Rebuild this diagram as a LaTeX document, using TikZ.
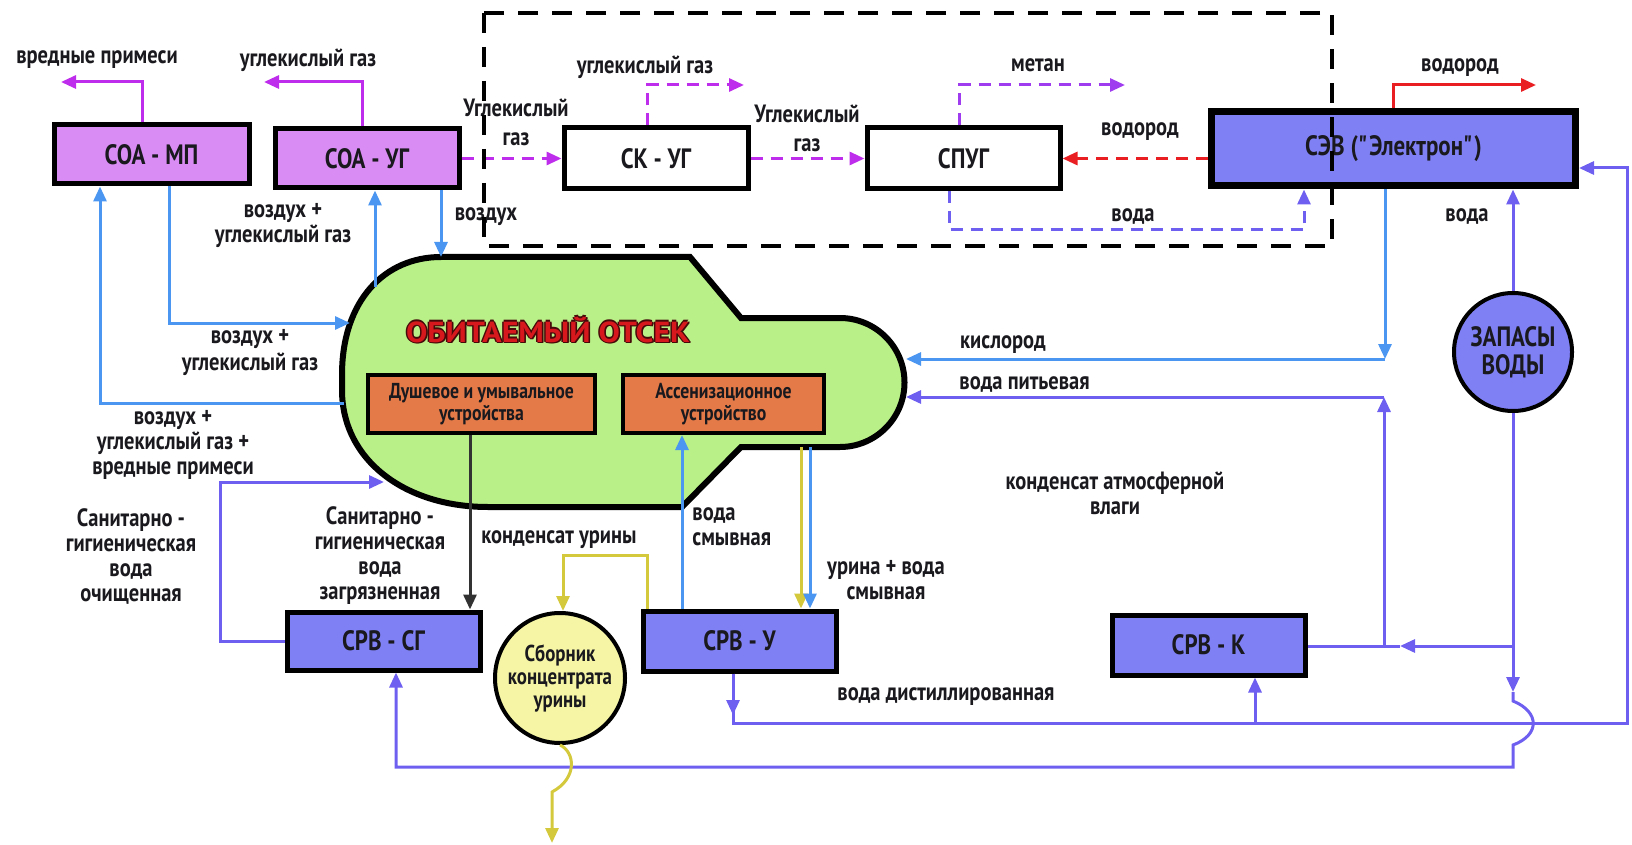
\documentclass[tikz,border=0pt]{standalone}
\usepackage{fontspec}
\setmainfont{PT Sans}[FakeStretch=0.82]
\newfontfamily\titlefont{PT Sans}[FakeStretch=1.1]
\usepackage{xcolor}
\usepackage{tikz}
\usetikzlibrary{arrows.meta, positioning, shapes.geometric}
\definecolor{SOAFill}{RGB}{218,140,245}
\definecolor{SRVFill}{RGB}{128,128,245}
\definecolor{HabFill}{RGB}{185,240,135}
\definecolor{DevFill}{RGB}{228,122,72}
\definecolor{SbFill}{RGB}{245,245,165}
\definecolor{MagLine}{RGB}{190,45,235}
\definecolor{MetLine}{RGB}{160,60,240}
\definecolor{VioLine}{RGB}{110,95,240}
\definecolor{BlueLine}{RGB}{75,150,240}
\definecolor{RedLine}{RGB}{232,30,35}
\definecolor{YelLine}{RGB}{212,200,60}
\definecolor{DarkLine}{RGB}{50,50,50}
\definecolor{TextDark}{RGB}{25,25,30}
\definecolor{TitleRed}{RGB}{215,25,30}
\definecolor{TitleEdge}{RGB}{70,10,10}

\newcommand\lblfont{\bfseries\fontsize{12.5}{12.5}\selectfont}
\newcommand\boxfont{\bfseries\fontsize{14}{15}\selectfont}
\newcommand\devfont{\bfseries\fontsize{10.8}{11}\selectfont}

\tikzset{
  box/.style={draw=black, line width=2.5pt, inner sep=0pt, font=\boxfont, text=TextDark},
  soabox/.style={box, fill=SOAFill},
  srvbox/.style={box, fill=SRVFill},
  plainbox/.style={box, fill=white},
  devbox/.style={draw=black, line width=2pt, fill=DevFill, align=center,
    font=\devfont, text=TextDark, inner sep=0pt},
  tank/.style={circle, draw=black, line width=2pt, align=center,
    text=TextDark, inner sep=0pt},
  lbl/.style={font=\lblfont, text=TextDark, align=center, inner sep=0pt},
  bare/.style={line width=1.5pt},
  flow/.style={bare, -{Triangle[length=7.5pt,width=6.5pt]}},
  dflow/.style={flow, dash pattern=on 6pt off 4pt},
  frame/.style={line width=1.6pt, dash pattern=on 10pt off 7pt},
  hablbl/.style={font=\titlefont\bfseries\fontsize{14.5}{15}\selectfont, inner sep=0pt}
}

\begin{document}
\begin{tikzpicture}[x=0.5pt,y=-0.5pt]
  \useasboundingbox (0,0) rectangle (1632,845);

  % habitable compartment
  \draw[line width=3pt, fill=HabFill] (441,257) -- (690,257) -- (741,318) -- (840,318)
    arc[start angle=-90, end angle=90, radius=64.5] -- (741,447) -- (682,507) -- (488,507)
    .. controls (405,507) and (342,460) .. (342,390) -- (342,375)
    .. controls (342,300) and (385,257) .. (441,257) -- cycle;
  \foreach \dx/\dy [count=\i] in {-1.5/0, 1.5/0, 0/-1.5, 0/1.5, 1.5/1.5}
    \node[hablbl, text=TitleEdge] (tshade\i) at (548+\dx,330+\dy) {ОБИТАЕМЫЙ ОТСЕК};
  \node[hablbl, text=TitleRed] (habtitle) at (548,330) {ОБИТАЕМЫЙ ОТСЕК};
  \node[devbox, minimum width=113.5pt, minimum height=29pt] (dush) at (481.5,404) {Душевое и умывальное\\устройства};
  \node[devbox, minimum width=100.5pt, minimum height=29pt] (assen) at (723.5,404) {Ассенизационное\\устройство};

  % units
  \node[soabox, minimum width=97.5pt, minimum height=29.5pt] (soamp) at (151.5,154.5) {СОА - МП};
  \node[soabox, minimum width=92pt, minimum height=29.5pt] (soaug) at (367,158.5) {СОА - УГ};
  \node[plainbox, minimum width=92pt, minimum height=30.5pt] (skug) at (656,158.5) {СК - УГ};
  \node[plainbox, minimum width=96.5pt, minimum height=30.5pt] (spug) at (963.5,158.5) {СПУГ};
  \node[srvbox, line width=3.5pt, minimum width=182pt, minimum height=37pt] (sev) at (1393.5,149) {СЭВ (\textquotedbl Электрон\textquotedbl)};
  \node[srvbox, minimum width=96.5pt, minimum height=29pt] (srvsg) at (383.5,641) {СРВ - СГ};
  \node[srvbox, minimum width=96.5pt, minimum height=30pt] (srvu) at (739.5,641) {СРВ - У};
  \node[srvbox, minimum width=96.5pt, minimum height=30pt] (srvk) at (1208.5,645) {СРВ - К};
  \node[tank, fill=SbFill, minimum size=65pt, font=\bfseries\fontsize{11.5}{11.5}\selectfont] (sbornik) at (560,678) {Сборник\\концентрата\\урины};
  \node[tank, fill=SRVFill, minimum size=59pt, font=\bfseries\fontsize{14}{14}\selectfont] (zapasy) at (1513,352) {ЗАПАСЫ\\ВОДЫ};

  % exhausts of the air units
  \coordinate (mpBend) at (142,82);
  \coordinate (mpEnd) at (61,82);
  \draw[flow, MagLine] (soamp.north -| mpBend) -- (mpBend) -- (mpEnd);
  \node[lbl] (lblmp) at (97,60) {вредные примеси};
  \coordinate (ugBend) at (362,82);
  \coordinate (ugEnd) at (264,82);
  \draw[flow, MagLine] (soaug.north -| ugBend) -- (ugBend) -- (ugEnd);
  \node[lbl] (lblug) at (308,60) {углекислый газ};

  % carbon dioxide chain
  \draw[dflow, MagLine] (soaug.east) -- (skug.west);
  \node[lbl] (lblco2a) at (516,122) {Углекислый\\[2pt]газ};
  \coordinate (skBend) at (647,85);
  \coordinate (skEnd) at (744,85);
  \draw[dflow, MagLine] (skug.north -| skBend) -- (skBend) -- (skEnd);
  \node[lbl] (lblco2b) at (645,67) {углекислый газ};
  \draw[dflow, MagLine] (skug.east) -- (spug.west);
  \node[lbl] (lblco2c) at (807,128) {Углекислый\\[2pt]газ};
  \coordinate (spBend) at (959,85);
  \coordinate (spEnd) at (1125,85);
  \draw[dflow, MetLine] (spug.north -| spBend) -- (spBend) -- (spEnd);
  \node[lbl] (lblch4) at (1038,65) {метан};
  \draw[dflow, RedLine] (sev.west |- spug.east) -- (spug.east);
  \node[lbl] (lblh2a) at (1140,132) {водород};
  \coordinate (spDown) at (949,230);
  \coordinate (sevWater) at (1304,230);
  \draw[dflow, VioLine] (spug.south -| spDown) -- (spDown) -- (sevWater) -- (sev.south -| sevWater);
  \node[lbl] (lblh2o) at (1133,217) {вода};

  % electrolysis
  \coordinate (h2Bend) at (1393,85);
  \coordinate (h2End) at (1536,85);
  \draw[flow, RedLine] (sev.north -| h2Bend) -- (h2Bend) -- (h2End);
  \node[lbl] (lblh2b) at (1460,68) {водород};
  \coordinate (o2Bend) at (1385,359);
  \coordinate (o2In) at (906,359);
  \draw[flow, BlueLine] (sev.south -| o2Bend) -- (o2Bend);
  \draw[flow, BlueLine] (o2Bend) -- (o2In);
  \node[lbl] (lblo2) at (1003,345) {кислород};
  \draw[flow, VioLine] (zapasy.north) -- (sev.south -| zapasy.north);
  \node[lbl] (lblzap) at (1467,217) {вода};

  % water stores
  \coordinate (dwJoin) at (1384,646);
  \coordinate (dwBend) at (1384,397);
  \coordinate (dwIn) at (906,397);
  \draw[flow, VioLine] (dwJoin) -- (dwBend);
  \draw[flow, VioLine] (dwBend) -- (dwIn);
  \node[lbl, anchor=west] (lbldw) at (959,384) {вода питьевая};
  \coordinate (zapJoin) at (1513,646);
  \coordinate (zapTip) at (1513,692);
  \coordinate (kArrow) at (1400,646);
  \draw[flow, VioLine] (zapasy.south) -- (zapTip);
  \draw[flow, VioLine] (zapJoin) -- (kArrow);
  \draw[bare, VioLine] (kArrow) -- (srvk.east |- kArrow);
  \coordinate (hopA) at (1513,701);
  \coordinate (hopB) at (1513,745);
  \coordinate (retCorner) at (1513,767);
  \coordinate (sgCorner) at (396,767);
  \draw[flow, VioLine] (zapTip) -- (hopA) .. controls (1540,712) and (1540,735) .. (hopB)
    -- (retCorner) -- (sgCorner) -- (srvsg.south -| sgCorner);
  \node[lbl] (lblatm) at (1115,493) {конденсат атмосферной\\влаги};

  % distilled water
  \coordinate (duCorner) at (733,723);
  \coordinate (duTip) at (733,715);
  \coordinate (rCorner) at (1627,723);
  \coordinate (rTop) at (1627,168);
  \coordinate (kUp) at (1255,723);
  \draw[flow, VioLine] (srvu.south -| duCorner) -- (duCorner) -- (rCorner) -- (rTop) -- (sev.east |- rTop);
  \draw[flow, VioLine] (srvu.south -| duCorner) -- (duTip);
  \draw[flow, VioLine] (kUp) -- (srvk.south -| kUp);
  \node[lbl] (lbldist) at (946,697) {вода дистиллированная};

  % sanitary water
  \coordinate (sgOut) at (220,641);
  \coordinate (sgUp) at (220,482);
  \coordinate (sgIn) at (384,482);
  \draw[flow, VioLine] (srvsg.west) -- (sgOut) -- (sgUp) -- (sgIn);
  \node[lbl] (lblsgc) at (131,556) {Санитарно -\\гигиеническая\\вода\\очищенная};
  \coordinate (dirtyX) at (470,0);
  \draw[flow, DarkLine] (dush.south -| dirtyX) -- (srvsg.north -| dirtyX);
  \node[lbl] (lblsgd) at (380,556) {Санитарно -\\гигиеническая\\вода\\загрязненная};

  % urine
  \coordinate (flushX) at (682,0);
  \draw[flow, BlueLine] (srvu.north -| flushX) -- (assen.south -| flushX);
  \node[lbl, anchor=west, align=left] (lblflush) at (692,527) {вода\\смывная};
  \coordinate (urOut) at (801,447);
  \coordinate (uwOut) at (810,447);
  \draw[flow, YelLine] (urOut) -- (srvu.north -| urOut);
  \draw[flow, BlueLine] (uwOut) -- (srvu.north -| uwOut);
  \node[lbl] (lblur) at (886,580) {урина + вода\\смывная};
  \coordinate (cuUp) at (647,555);
  \coordinate (cuDown) at (563,555);
  \draw[flow, YelLine] (srvu.north -| cuUp) -- (cuUp) -- (cuDown) -- (sbornik.north -| cuDown);
  \node[lbl] (lblcu) at (559,540) {конденсат урины};
  \coordinate (sbBend) at (552,792);
  \coordinate (sbOut) at (552,843);
  \draw[flow, YelLine] (sbornik.south) .. controls (575,752) and (578,778) .. (sbBend) -- (sbOut);

  % air loops
  \coordinate (habMpOut) at (344,403);
  \coordinate (mpRet) at (100,403);
  \draw[flow, BlueLine] (habMpOut) -- (mpRet) -- (soamp.south -| mpRet);
  \node[lbl] (lblair1) at (173,445) {воздух +\\углекислый газ +\\вредные примеси};
  \coordinate (mpDown) at (169,323);
  \coordinate (habMpIn) at (350,323);
  \draw[flow, BlueLine] (soamp.south -| mpDown) -- (mpDown) -- (habMpIn);
  \node[lbl] (lblair2) at (250,353) {воздух +\\[1pt]углекислый газ};
  \coordinate (habUgOut) at (375,287);
  \draw[flow, BlueLine] (habUgOut) -- (soaug.south -| habUgOut);
  \node[lbl] (lblair3) at (283,226) {воздух +\\углекислый газ};
  \coordinate (habUgIn) at (441,257);
  \draw[flow, BlueLine] (soaug.south -| habUgIn) -- (habUgIn);
  \node[lbl] (lblair4) at (486,217) {воздух};

  % methane-forming block
  \draw[frame] (484,13) rectangle (1332,246);
\end{tikzpicture}
\end{document}
